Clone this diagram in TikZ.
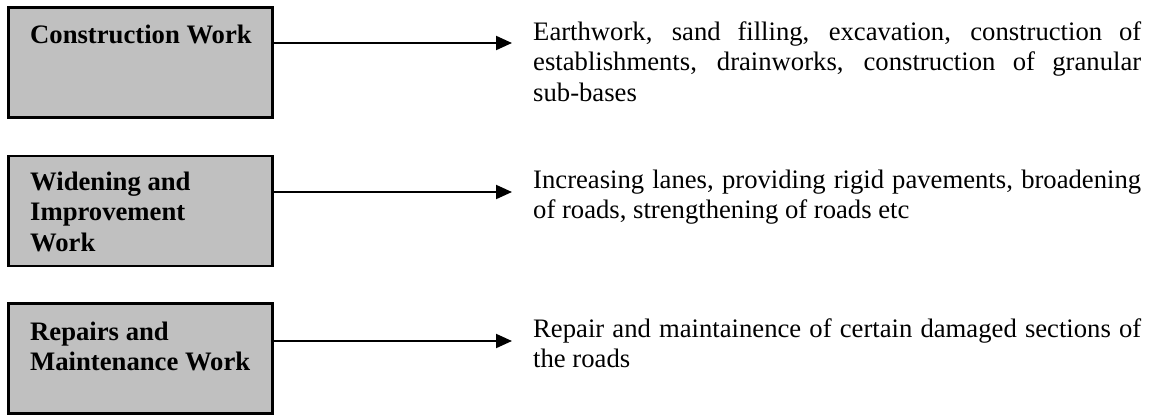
\documentclass[tikz,border=0pt]{standalone}
\usepackage{fontspec}
\setmainfont{Liberation Serif}
\usetikzlibrary{arrows.meta}
\definecolor{boxgray}{HTML}{C0C0C0}
\tikzset{
  workbox/.style={draw=black, fill=boxgray, line width=2.2pt, minimum width=264pt, minimum height=110pt, inner sep=0pt},
  boxlabel/.style={anchor=base west, align=left, inner sep=0pt, font=\fontsize{26.67}{30.7}\selectfont\bfseries},
  desc/.style={anchor=base west, align=left, inner sep=0pt, font=\fontsize{26.67}{30.9}\selectfont},
  conn/.style={line width=2pt, -{Triangle[length=16pt,width=14pt]}},
}
\begin{document}
\begin{tikzpicture}[x=1pt,y=-1pt]
\useasboundingbox (0,0) rectangle (1149,415);
% boxes
\node[workbox] (b1) at (140.5,62.5) {};
\node[workbox] (b2) at (140.5,211) {};
\node[workbox] (b3) at (140.5,358.5) {};
% box labels (anchored at the baseline of their last line)
\node[boxlabel] (l1) at (30,43) {Construction Work};
\node[boxlabel] (l2) at (30,251.4) {Widening and\\Improvement\\Work};
\node[boxlabel] (l3) at (30,370.7) {Repairs and\\Maintenance Work};
% arrow ends
\coordinate (e1) at (512,43);
\coordinate (e2) at (512,192);
\coordinate (e3) at (512,341);
\draw[conn] (b1.east |- e1) -- (e1);
\draw[conn] (b2.east |- e2) -- (e2);
\draw[conn] (b3.east |- e3) -- (e3);
% descriptions (anchored at the baseline of their last line)
\node[desc] (d1) at (533,101.8) {\makebox[608pt][s]{Earthwork, sand filling, excavation, construction of}\\\makebox[608pt][s]{establishments, drainworks, construction of granular}\\sub-bases};
\node[desc] (d2) at (533,218.9) {\makebox[608pt][s]{Increasing lanes, providing rigid pavements, broadening}\\of roads, strengthening of roads etc};
\node[desc] (d3) at (533,367.9) {\makebox[608pt][s]{Repair and maintainence of certain damaged sections of}\\the roads};
\end{tikzpicture}
\end{document}
